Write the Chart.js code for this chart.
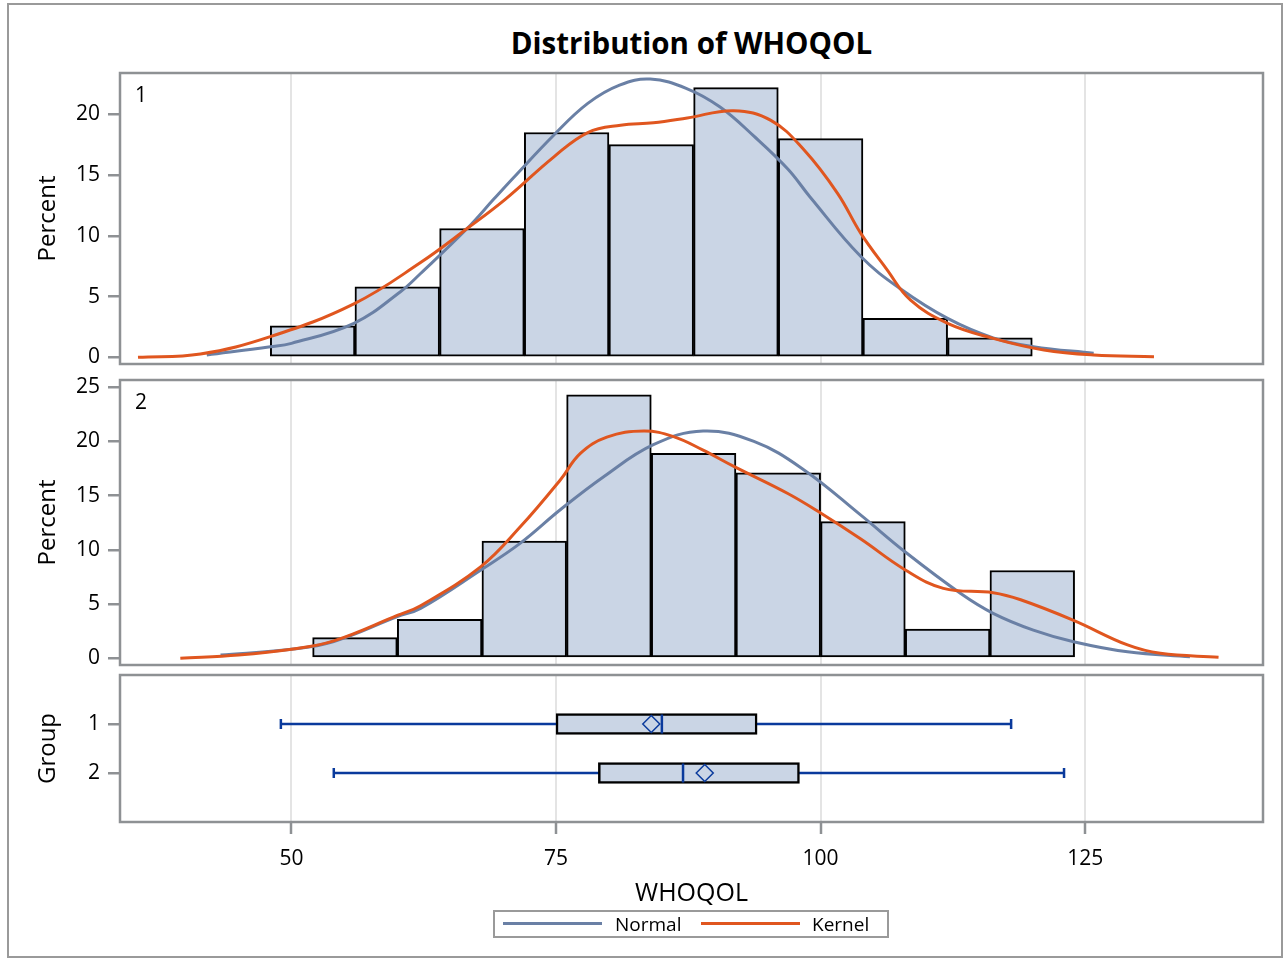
<!DOCTYPE html>
<html>
<head>
<meta charset="utf-8">
<script src="https://cdn.jsdelivr.net/npm/chart.js@4.4.1/dist/chart.umd.min.js"></script>
<style>
  body { margin: 0; background: #fff; font-family: "Open Sans", "Noto Sans", sans-serif; }
  #wrap { position: relative; width: 1285px; height: 961px; overflow: hidden; }
  #wrap canvas { position: absolute; left: 0; top: 0; }
  #frame { position: absolute; left: 7px; top: 3px; width: 1276px; height: 955px; border: 2px solid #9a9a9a; box-sizing: border-box; }
  #title { position: absolute; left: 120px; width: 1143px; top: 23px; line-height: 40px; text-align: center; font-weight: bold; font-size: 29.5px; color: #000; }
  #legend { position: absolute; left: 493px; top: 910px; width: 396px; height: 28px; border: 2px solid #9a9a9a; box-sizing: border-box; font-size: 19px; }
  #legend .ln { position: absolute; top: 10px; height: 3px; width: 99px; }
  #legend .lt { position: absolute; top: 0; line-height: 24px; }
</style>
</head>
<body>
<div id="wrap">
  <div id="frame"></div>
  <div id="title">Distribution of WHOQOL</div>
  <canvas id="c1" width="1285" height="961"></canvas>
  <canvas id="c2" width="1285" height="961"></canvas>
  <canvas id="c3" width="1285" height="961"></canvas>
  <div id="legend">
    <span class="ln" style="left:8px;background:#6a80a5"></span><span class="lt" style="left:120px">Normal</span>
    <span class="ln" style="left:206px;background:#e0561f"></span><span class="lt" style="left:317px">Kernel</span>
  </div>
</div>
<script>
// shared x axis
const xTicks = [50, 75, 100, 125];

// group 1 histogram (bin midpoints, percent)
const binMids1 = [52, 60, 68, 76, 84, 92, 100, 108, 116];
const pct1 = [2.6, 5.8, 10.6, 18.5, 17.5, 22.2, 18.0, 3.2, 1.6];
const yTicks1 = [0, 5, 10, 15, 20];

// group 2 histogram
const binMids2 = [56, 64, 72, 80, 88, 96, 104, 112, 120];
const pct2 = [1.9, 3.6, 10.8, 24.3, 18.9, 17.1, 12.6, 2.7, 8.1];
const yTicks2 = [0, 5, 10, 15, 20, 25];

// fitted curves
const normX1 = [42.0, 48.0, 50.0, 55.9, 60.3, 62.2, 66.6, 69.1, 71.0, 74.8, 78.0, 81.0, 83.9, 87.4, 90.5, 93.7, 96.9, 99.0, 103.8, 107.6, 112.0, 116.3, 120.1, 125.8];
const normY1 = [0.2, 0.87, 1.15, 2.8, 5.4, 6.9, 10.6, 13.0, 14.8, 18.3, 20.9, 22.4, 22.9, 22.1, 20.6, 18.2, 15.5, 13.2, 8.3, 5.6, 3.2, 1.6, 0.88, 0.33];
const kernX1 = [35.5, 41.4, 48.0, 55.9, 62.2, 66.6, 70.2, 74.8, 78.0, 81.1, 84.2, 87.4, 91.8, 95.3, 98.4, 101.6, 103.8, 106.2, 108.5, 112.0, 116.3, 121.1, 125.8, 131.5];
const kernY1 = [0.0, 0.27, 1.7, 4.4, 7.8, 10.6, 13.0, 16.5, 18.5, 19.1, 19.3, 19.7, 20.3, 19.5, 17.1, 13.5, 10.2, 7.3, 4.7, 2.8, 1.56, 0.6, 0.19, 0.05];

const normX2 = [43.3, 50.0, 54.0, 60.0, 62.2, 67.9, 71.6, 75.4, 79.5, 84.2, 88.9, 93.7, 98.4, 103.8, 108.0, 113.2, 116.3, 120.1, 123.9, 129.0, 134.9];
const normY2 = [0.3, 0.83, 1.55, 3.84, 4.6, 8.15, 10.6, 13.7, 16.75, 19.7, 20.97, 20.0, 17.4, 13.2, 9.8, 6.0, 4.15, 2.6, 1.53, 0.6, 0.15];
const kernX2 = [39.5, 45.0, 50.0, 54.0, 60.0, 62.2, 67.9, 71.6, 75.4, 77.3, 79.8, 83.3, 86.1, 88.9, 91.8, 96.9, 100.0, 103.8, 108.0, 111.6, 116.3, 118.9, 123.9, 129.0, 132.1, 137.6];
const kernY2 = [0.0, 0.3, 0.83, 1.6, 3.95, 4.85, 8.45, 12.1, 16.45, 18.9, 20.4, 20.97, 20.45, 19.2, 17.7, 15.2, 13.4, 11.0, 8.15, 6.45, 6.05, 5.4, 3.5, 1.23, 0.46, 0.1];

// box plot summary per group
const groups = [1, 2];
const whiskerLo = [49.0, 54.0];
const whiskerHi = [118.0, 123.0];
const q1 = [75.0, 79.0];
const q3 = [94.0, 98.0];
const medians = [85.0, 87.0];
const means = [84.0, 89.05];

const FONT = '"Open Sans", "Noto Sans", sans-serif';
const GRID = '#e4e4e4';
const AXIS = '#8e9194';
const FILL = '#cad5e5';
const BLUE = '#6a80a5';
const ORANGE = '#e0561f';
const BOXLINE = '#0a3a9c';
const X_MIN = 33.8, X_MAX = 141.8;

Chart.defaults.font.family = FONT;
Chart.defaults.color = '#000';

function pts(xs, ys) {
  return xs.map((x, i) => ({ x: x, y: ys[i] }));
}

// grey frame round each panel + the group number in the corner
const panelFrame = {
  id: 'panelFrame',
  afterDatasetsDraw(chart, args, opts) {
    const a = chart.chartArea;
    const ctx = chart.ctx;
    ctx.save();
    if (opts.label) {
      ctx.font = '21px ' + FONT;
      ctx.fillStyle = '#000';
      ctx.textAlign = 'center';
      ctx.textBaseline = 'middle';
      ctx.fillText(opts.label, a.left + 21, a.top + 23);
    }
    ctx.strokeStyle = AXIS;
    ctx.lineWidth = 2.5;
    ctx.strokeRect(a.left, a.top, a.right - a.left, a.bottom - a.top);
    ctx.restore();
  }
};

function xScale(showLabels) {
  const s = {
    type: 'linear', min: X_MIN, max: X_MAX, offset: false,
    afterBuildTicks: sc => { sc.ticks = xTicks.map(v => ({ value: v })); },
    ticks: { display: showLabels, font: { size: 21 }, padding: 12, maxRotation: 0 },
    grid: { offset: false, color: GRID, lineWidth: 2, drawTicks: showLabels, tickLength: 12, tickColor: AXIS, tickWidth: 2.5 },
    border: { display: false }
  };
  if (showLabels) {
    s.title = { display: true, text: 'WHOQOL', font: { size: 25 }, padding: { top: 0, bottom: 52 } };
    s.afterFit = sc => { sc.height = 961 - 822; };
  } else {
    s.afterFit = sc => { sc.height = 0; };
  }
  return s;
}

function yScale(min, max, ticks, title, reverse) {
  return {
    type: 'linear', min: min, max: max, reverse: !!reverse, offset: false,
    afterBuildTicks: sc => { sc.ticks = ticks.map(v => ({ value: v })); },
    afterFit: sc => { sc.width = 120; },
    ticks: { font: { size: 21 }, padding: 8 },
    grid: { offset: false, drawOnChartArea: false, color: AXIS, lineWidth: 2.5, tickLength: 12 },
    border: { display: false },
    title: { display: true, text: title, font: { size: 24 }, padding: { top: 34, bottom: 0 } }
  };
}

function histPanel(id, top, bottom, yMin, yMax, yTicks, mids, pct, nx, ny, kx, ky, label) {
  return new Chart(document.getElementById(id), {
    type: 'bar',
    data: {
      datasets: [
        { type: 'line', label: 'Kernel', data: pts(kx, ky), borderColor: ORANGE, borderWidth: 3,
          pointRadius: 0, tension: 0.4, order: 0 },
        { type: 'line', label: 'Normal', data: pts(nx, ny), borderColor: BLUE, borderWidth: 3,
          pointRadius: 0, tension: 0.4, order: 1 },
        { type: 'bar', label: 'Percent', data: pts(mids, pct), backgroundColor: FILL, borderColor: '#000',
          borderWidth: 2, borderSkipped: false, barPercentage: 1, categoryPercentage: 1, grouped: false, order: 2 }
      ]
    },
    options: {
      responsive: false, animation: false, devicePixelRatio: 1, events: [],
      layout: { padding: { top: top, bottom: 961 - bottom, left: 0, right: 22 } },
      plugins: { legend: { display: false }, tooltip: { enabled: false }, panelFrame: { label: label } },
      scales: { x: xScale(false), y: yScale(yMin, yMax, yTicks, 'Percent') }
    },
    plugins: [panelFrame]
  });
}

histPanel('c1', 73, 364, -0.55, 23.4, yTicks1, binMids1, pct1, normX1, normY1, kernX1, kernY1, '1');
histPanel('c2', 380, 665, -0.62, 25.67, yTicks2, binMids2, pct2, normX2, normY2, kernX2, kernY2, '2');

// box plot panel
const boxSets = [];
groups.forEach((g, i) => {
  boxSets.push({ type: 'line', data: [{ x: whiskerLo[i], y: g }, { x: whiskerHi[i], y: g }],
    borderColor: BOXLINE, borderWidth: 2.5, pointStyle: 'line', pointRotation: 90, pointRadius: 5,
    pointBorderWidth: 2.5, pointBorderColor: BOXLINE, order: 3 });
});
boxSets.push({ type: 'bar', indexAxis: 'y', data: groups.map((g, i) => ({ y: g, x: [q1[i], q3[i]] })),
  backgroundColor: FILL, borderColor: '#000', borderWidth: 2.5, borderSkipped: false, barThickness: 21,
  grouped: false, order: 2 });
boxSets.push({ type: 'line', showLine: false, data: groups.map((g, i) => ({ x: medians[i], y: g })),
  pointStyle: 'line', pointRotation: 90, pointRadius: 9.5, pointBorderWidth: 2.5, pointBorderColor: BOXLINE, order: 1 });
boxSets.push({ type: 'line', showLine: false, data: groups.map((g, i) => ({ x: means[i], y: g })),
  pointStyle: 'rectRot', pointRadius: 8.5, pointBorderWidth: 1.5, pointBorderColor: BOXLINE,
  pointBackgroundColor: 'rgba(0,0,0,0)', order: 0 });

new Chart(document.getElementById('c3'), {
  type: 'bar',
  data: { datasets: boxSets },
  options: {
    responsive: false, animation: false, devicePixelRatio: 1, events: [],
    layout: { padding: { top: 675, bottom: 0, left: 0, right: 22 } },
    plugins: { legend: { display: false }, tooltip: { enabled: false }, panelFrame: {} },
    scales: { x: xScale(true), y: yScale(0, 3, groups, 'Group', true) }
  },
  plugins: [panelFrame]
});
</script>
</body>
</html>
